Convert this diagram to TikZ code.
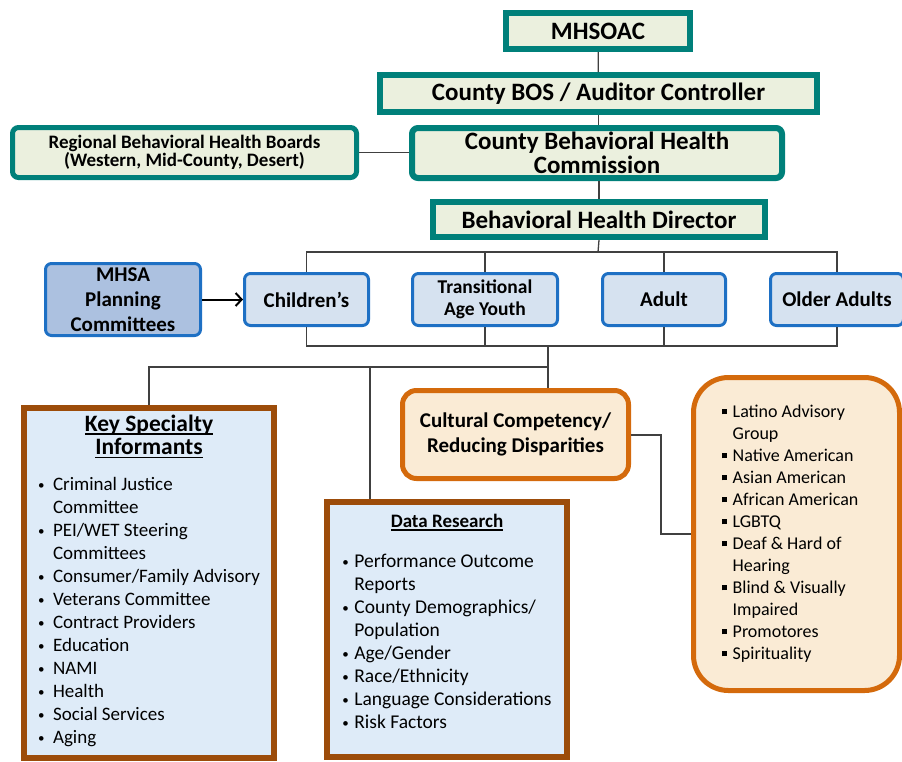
\documentclass[tikz,border=0pt]{standalone}
\usepackage{fontspec}
\setmainfont{Carlito}
\usetikzlibrary{arrows.meta}

\definecolor{tealc}{RGB}{0,128,122}
\definecolor{paleg}{RGB}{235,240,222}
\definecolor{blueb}{RGB}{30,112,196}
\definecolor{paleb}{RGB}{214,226,240}
\definecolor{mhsab}{RGB}{172,193,224}
\definecolor{brownc}{RGB}{156,76,10}
\definecolor{keyfill}{RGB}{222,235,248}
\definecolor{orangec}{RGB}{212,106,12}
\definecolor{peach}{RGB}{250,235,213}
\definecolor{linec}{RGB}{64,64,64}

\newcommand{\sqbul}{\rule[3pt]{5pt}{5pt}}
\newcommand{\dotbul}{{\fontsize{13}{13}\selectfont\raisebox{1pt}{•}}}
\newcommand{\uln}[1]{\setbox0\hbox{#1}\rlap{\rule[-3pt]{\wd0}{1.3pt}}\box0}

\tikzset{
	tealbox/.style={draw=tealc, line width=6pt, fill=paleg, align=center, inner sep=0pt,
		font=\bfseries\fontsize{25}{24}\selectfont},
	bluebox/.style={draw=blueb, line width=3pt, fill=paleb, rounded corners=6pt, align=center,
		inner sep=0pt, minimum height=52pt, font=\bfseries\fontsize{21}{25}\selectfont},
	brownbox/.style={draw=brownc, line width=6pt, fill=keyfill, inner sep=0pt},
	orangebox/.style={draw=orangec, line width=5pt, fill=peach, inner sep=0pt, align=center},
	link/.style={draw=linec, line width=1.3pt}
}

\begin{document}
\begin{tikzpicture}[x=1pt, y=-1pt]
	\useasboundingbox (0,0) rectangle (902,761);

	% top of the chart
	\node[tealbox, minimum width=184pt, minimum height=36pt] (mhsoac) at (598,31) {MHSOAC};
	\node[tealbox, minimum width=437pt, minimum height=37pt] (bos) at (598.5,93.5) {County BOS / Auditor Controller};
	\node[tealbox, rounded corners=6pt, minimum width=370pt, minimum height=50pt] (cbhc) at (597,153)
		{County Behavioral Health\\Commission};
	\node[tealbox, rounded corners=6pt, line width=5pt, minimum width=344pt, minimum height=50pt,
		font=\bfseries\fontsize{19}{18}\selectfont] (rbhb) at (184.5,152.5)
		{Regional Behavioral Health Boards\\(Western, Mid-County, Desert)};
	\node[tealbox, minimum width=332pt, minimum height=35pt] (dir) at (599,219.5) {Behavioral Health Director};

	% age groups
	\node[bluebox, fill=mhsab, minimum width=155pt, minimum height=72pt] (mhsa) at (123,299.5)
		{MHSA\\Planning\\Committees};
	\node[bluebox, minimum width=124pt] (chil) at (306.5,299.5) {Children’s};
	\node[bluebox, minimum width=145pt, font=\bfseries\fontsize{19.5}{22}\selectfont] (tay) at (485,299.5)
		{Transitional\\Age Youth};
	\node[bluebox, minimum width=123pt] (adult) at (664,299.5) {Adult};
	\node[bluebox, minimum width=133pt] (older) at (837,299.5) {Older Adults};

	% lower boxes
	\node[brownbox, minimum width=250pt, minimum height=350pt] (key) at (149,583) {%
		\fontsize{19}{23}\selectfont
		\begin{tabular}{@{}p{15pt}@{}l@{}}
			\multicolumn{2}{c}{\bfseries\fontsize{23.5}{23}\selectfont\uln{Key Specialty}}\\
			\multicolumn{2}{c}{\bfseries\fontsize{23.5}{23}\selectfont\uln{Informants}}\\[13pt]
			\dotbul & Criminal Justice\\
			        & Committee\\
			\dotbul & PEI/WET Steering\\
			        & Committees\\
			\dotbul & Consumer/Family Advisory\\
			\dotbul & Veterans Committee\\
			\dotbul & Contract Providers\\
			\dotbul & Education\\
			\dotbul & NAMI\\
			\dotbul & Health\\
			\dotbul & Social Services\\
			\dotbul & Aging
		\end{tabular}};
	\node[brownbox, minimum width=240pt, minimum height=255pt] (data) at (447,629.5) {%
		\fontsize{19.5}{23}\selectfont
		\begin{tabular}{@{}p{12pt}@{}l@{}}
			\multicolumn{2}{c}{\bfseries\fontsize{19}{23}\selectfont\uln{Data Research}}\\[17pt]
			\dotbul & Performance Outcome\\
			        & Reports\\
			\dotbul & County Demographics/\\
			        & Population\\
			\dotbul & Age/Gender\\
			\dotbul & Race/Ethnicity\\
			\dotbul & Language Considerations\\
			\dotbul & Risk Factors\\[12pt]
		\end{tabular}};
	\node[orangebox, rounded corners=14pt, minimum width=226pt, minimum height=88pt,
		font=\bfseries\fontsize{21}{25}\selectfont] (cult) at (515.5,434.5)
		{Cultural Competency/\\Reducing Disparities};
	\node[orangebox, rounded corners=35pt, minimum width=206pt, minimum height=313pt] (groups) at (796.5,534) {%
		\fontsize{18}{22}\selectfont
		\begin{tabular}{@{}p{11pt}@{}l@{\hspace{13pt}}}
			\sqbul & Latino Advisory\\
			       & Group\\
			\sqbul & Native American\\
			\sqbul & Asian American\\
			\sqbul & African American\\
			\sqbul & LGBTQ\\
			\sqbul & Deaf \& Hard of\\
			       & Hearing\\
			\sqbul & Blind \& Visually\\
			       & Impaired\\
			\sqbul & Promotores\\
			\sqbul & Spirituality
		\end{tabular}};

	% connectors
	\coordinate (bus) at (598,252);
	\coordinate (hub) at (548,346);
	\coordinate (split) at (548,367);
	\coordinate (dtap) at (370,367);
	\coordinate (bend) at (661,435);
	\draw[link] (mhsoac) -- (bos);
	\draw[link] (bos.south) -- (bos.south |- cbhc.north);
	\draw[link] (dir.north |- cbhc.south) -- (dir.north);
	\draw[link] (rbhb.east) -- (rbhb.east -| cbhc.west);
	\draw[link] (dir.south) -- (bus);
	\draw[link] (chil.north) |- (bus) -| (older.north);
	\draw[link] (chil.south) |- (hub) -| (older.south);
	\foreach \n in {tay,adult} {
		\draw[link] (\n.north) -- (\n.north |- bus);
		\draw[link] (\n.south) -- (\n.south |- hub);
	}
	\draw[link] (hub) -- (split) -| (key.north);
	\draw[link] (dtap) -- (dtap |- data.north);
	\draw[link] (split) -- (split |- cult.north);
	\draw[link] (cult.east |- bend) -- (bend) |- (groups.west);
	\draw[line width=2pt, -{Straight Barb[length=6pt, width=13pt]}] (mhsa) -- (chil);
\end{tikzpicture}
\end{document}
